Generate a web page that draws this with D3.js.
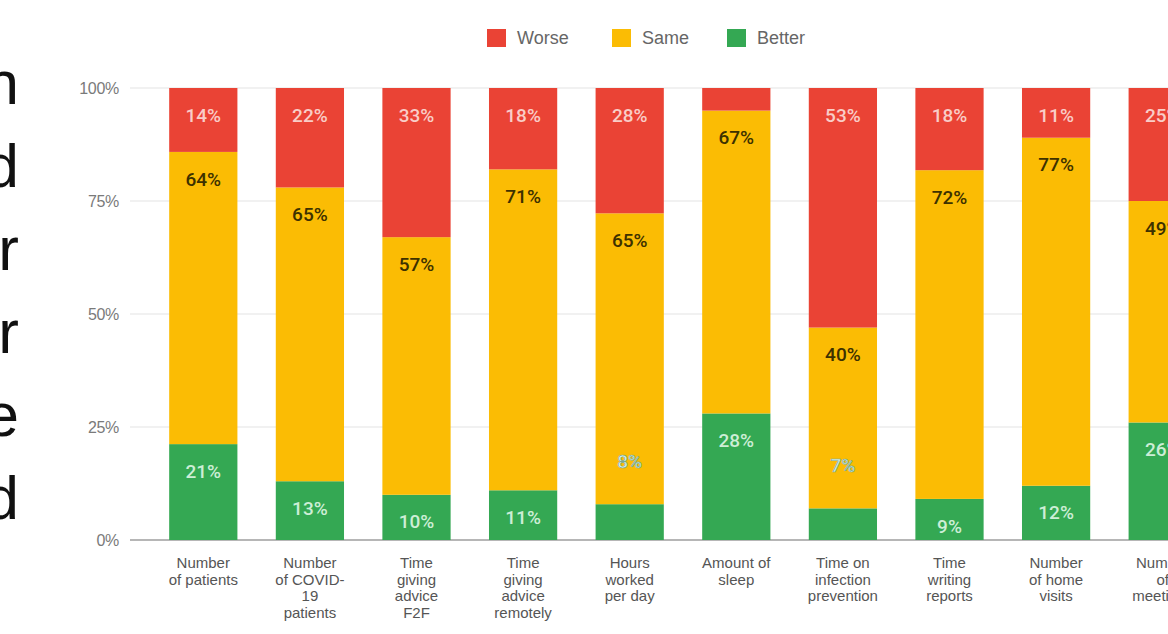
<!DOCTYPE html>
<html>
<head>
<meta charset="utf-8">
<script src="https://cdn.jsdelivr.net/npm/d3@7"></script>
<style>
  html, body { margin: 0; padding: 0; background: #fff; overflow: hidden; }
  svg { display: block; }
</style>
</head>
<body>
<svg id="chart" width="1168" height="634"></svg>
<script>
"use strict";

// categories (x axis), wrapped labels
const categories = [
  "Number of patients",
  "Number of COVID-19 patients",
  "Time giving advice F2F",
  "Time giving advice remotely",
  "Hours worked per day",
  "Amount of sleep",
  "Time on infection prevention",
  "Time writing reports",
  "Number of home visits",
  "Number of meetings"
];
const categoryLines = [
  ["Number", "of patients"],
  ["Number", "of COVID-", "19", "patients"],
  ["Time", "giving", "advice", "F2F"],
  ["Time", "giving", "advice", "remotely"],
  ["Hours", "worked", "per day"],
  ["Amount of", "sleep"],
  ["Time on", "infection", "prevention"],
  ["Time", "writing", "reports"],
  ["Number", "of home", "visits"],
  ["Number", "of", "meetings"]
];

// series values (percent)
const better = [21, 13, 10, 11, 8, 28, 7, 9, 12, 26];
const same   = [64, 65, 57, 71, 65, 67, 40, 72, 77, 49];
const worse  = [14, 22, 33, 18, 28, 5, 53, 18, 11, 25];
const showWorseLabel = [true, true, true, true, true, false, true, true, true, true];

const seriesNames = ["Better", "Same", "Worse"];
const legendOrder = ["Worse", "Same", "Better"];
const yTicks = [0, 0.25, 0.5, 0.75, 1];

// text fragments of the slide on the left (cut off)
const sideLetters = ["n", "d", "r", "r", "e", "d"];

const colors = { Worse: "#ea4335", Same: "#fbbc04", Better: "#34a853" };
const labelColors = { Worse: "#f9cdc7", Same: "#3d3100", Better: "#cdeed6" };

const svg = d3.select("#chart");

// table built from the arrays
const table = categories.map((c, i) => ({
  cat: c, Better: better[i], Same: same[i], Worse: worse[i], idx: i
}));

const stack = d3.stack().keys(seriesNames).offset(d3.stackOffsetExpand);
const layers = stack(table);

const x = d3.scaleBand()
  .domain(categories)
  .range([150, 1216])
  .paddingInner(0.36)
  .paddingOuter(0.18);

const y = d3.scaleLinear().domain([0, 1]).range([540, 88]);

// gridlines
svg.append("g")
  .selectAll("line")
  .data(yTicks)
  .join("line")
    .attr("x1", 130)
    .attr("x2", 1168)
    .attr("y1", d => y(d))
    .attr("y2", d => y(d))
    .attr("stroke", d => d === 0 ? "#9e9e9e" : "#e3e3e3")
    .attr("stroke-width", d => d === 0 ? 1.6 : 1.2);

// y axis labels
svg.append("g")
  .selectAll("text")
  .data(yTicks)
  .join("text")
    .attr("x", 119)
    .attr("y", d => y(d))
    .attr("dy", "0.35em")
    .attr("text-anchor", "end")
    .style("font-family", "'Liberation Sans', Arial, sans-serif")
    .style("font-size", "16px")
    .style("letter-spacing", "-0.3px")
    .style("fill", "#7a7a7a")
    .text(d3.format(".0%"));

// bars
const layerG = svg.append("g")
  .selectAll("g")
  .data(layers)
  .join("g")
    .attr("fill", d => colors[d.key]);

layerG.selectAll("rect")
  .data(d => d)
  .join("rect")
    .attr("x", d => x(d.data.cat))
    .attr("width", x.bandwidth())
    .attr("y", d => y(d[1]))
    .attr("height", d => y(d[0]) - y(d[1]));

// data labels
const labelG = svg.append("g")
  .style("font-family", "Roboto, sans-serif")
  .style("font-size", "19px")
  .style("font-weight", "500")
  .attr("text-anchor", "middle");

layers.forEach(layer => {
  layer.forEach(d => {
    const key = layer.key;
    const i = d.data.idx;
    if (key === "Worse" && !showWorseLabel[i]) return;
    const top = y(d[1]);
    const h = y(d[0]) - top;
    const small = h < 40;
    const t = labelG.append("text")
      .attr("x", x(d.data.cat) + x.bandwidth() / 2)
      .attr("y", small ? top - 43 : top + 27)
      .attr("dy", "0.35em")
      .style("fill", labelColors[key])
      .text(d.data[key] + "%");
    if (small) {
      t.style("fill", "#d9f4f0")
        .style("stroke", "#7aa890")
        .style("stroke-width", "0.7px");
    }
  });
});

// x axis labels
const xl = svg.append("g")
  .style("font-family", "'Liberation Sans', Arial, sans-serif")
  .style("font-size", "15px")
  .style("fill", "#555")
  .attr("text-anchor", "middle");

xl.selectAll("text")
  .data(categories)
  .join("text")
    .attr("x", d => x(d) + x.bandwidth() / 2)
    .attr("y", 568)
    .each(function(d, i) {
      d3.select(this).selectAll("tspan")
        .data(categoryLines[i])
        .join("tspan")
          .attr("x", x(d) + x.bandwidth() / 2)
          .attr("dy", (l, j) => j === 0 ? 0 : 16.5)
          .text(l => l);
    });

// legend
const legend = svg.append("g")
  .style("font-family", "'Liberation Sans', Arial, sans-serif")
  .style("font-size", "18px")
  .style("fill", "#666");
const legendX = [487, 612, 727];
legendOrder.forEach((k, i) => {
  legend.append("rect")
    .attr("x", legendX[i])
    .attr("y", 29)
    .attr("width", 19)
    .attr("height", 18)
    .attr("fill", colors[k]);
  legend.append("text")
    .attr("x", legendX[i] + 30)
    .attr("y", 38)
    .attr("dy", "0.35em")
    .text(k);
});

// large cut-off slide text on the left
svg.append("g")
  .style("font-family", "'Liberation Sans', Arial, sans-serif")
  .style("font-size", "62px")
  .style("fill", "#111")
  .attr("text-anchor", "end")
  .selectAll("text")
  .data(sideLetters)
  .join("text")
    .attr("x", 19)
    .attr("y", (d, i) => 104 + i * 83)
    .text(d => d);
</script>
</body>
</html>
